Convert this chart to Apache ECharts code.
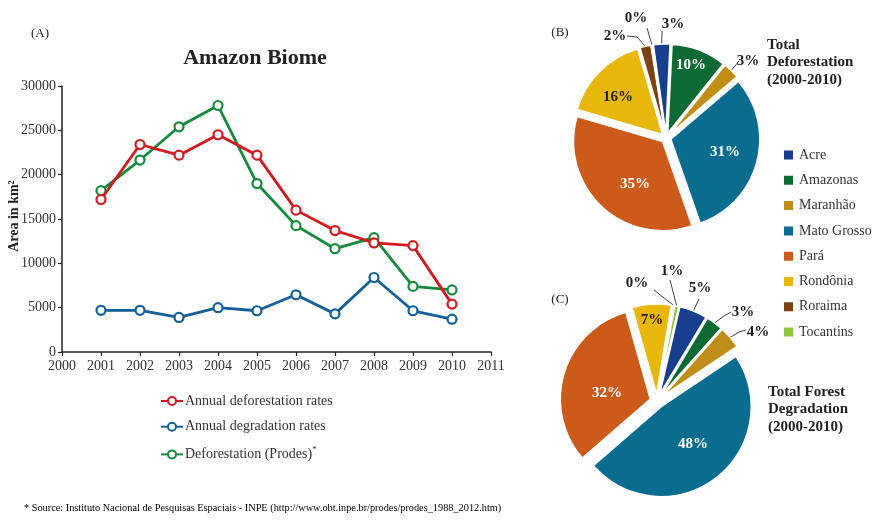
<!DOCTYPE html>
<html><head><meta charset="utf-8">
<script src="https://cdn.jsdelivr.net/npm/echarts@6/dist/echarts.min.js"></script>
<style>html,body{margin:0;padding:0;background:#fff}#c{width:886px;height:531px}</style>
</head><body><div id="c"></div>
<script>
// ---- data ----
const years = [2001, 2002, 2003, 2004, 2005, 2006, 2007, 2008, 2009, 2010];
const annualDeforestation = [17200, 23400, 22200, 24500, 22200, 16000, 13700, 12300, 12000, 5400];
const annualDegradation = [4700, 4700, 3900, 5000, 4650, 6450, 4300, 8400, 4650, 3700];
const prodesDeforestation = [18200, 21650, 25400, 27800, 19000, 14250, 11650, 12900, 7400, 7000];
const lineNames = ['Annual deforestation rates', 'Annual degradation rates', 'Deforestation (Prodes)'];
const states = ['Acre', 'Amazonas', 'Maranhão', 'Mato Grosso', 'Pará', 'Rondônia', 'Roraima', 'Tocantins'];
const totalDeforestationPct = [3, 10, 3, 31, 35, 16, 2, 0.3];
const totalDegradationPct = [5, 3, 4, 48, 32, 7, 0.3, 0.7];

// ---- styles / label layout ----
const FONT = '"Liberation Serif", "DejaVu Serif", serif';
const lineColors = ['#d2191f', '#155f98', '#168a3c'];
const stateColors = ['#173f8d', '#0e6a35', '#c08d16', '#0a6c8e', '#cb5a1b', '#e8b70c', '#7a4311', '#8dc63f'];
const defLabelColor = ['#222', '#fff', '#222', '#fff', '#fff', '#222', '#222', '#222'];
const degLabelColor = ['#222', '#222', '#222', '#fff', '#fff', '#222', '#222', '#222'];
// label centre (+ leader-line path for outside labels)
const defLabelLayout = [
  { x: 673, y: 24, line: [[662, 31]] },
  { x: 691, y: 65, inside: true },
  { x: 748, y: 61, line: [[739, 61]] },
  { x: 725, y: 152, inside: true },
  { x: 635, y: 184, inside: true },
  { x: 618, y: 97, inside: true },
  { x: 615, y: 36, line: [[637, 37], [627, 36]] },
  { x: 636, y: 18, line: [[647, 28]] }
];
const degLabelLayout = [
  { x: 700, y: 288, line: [[699, 299]] },
  { x: 743, y: 312, line: [[724, 316], [731, 312]] },
  { x: 758, y: 332, line: [[739, 332], [746, 330]] },
  { x: 693, y: 444, inside: true },
  { x: 607, y: 393, inside: true },
  { x: 652, y: 320, inside: true },
  { x: 637, y: 283, line: [[654, 290]] },
  { x: 672, y: 271, line: [[670, 280]] }
];

function pieSeries(values, colors, layout, center, radius, startAngle, offset) {
  const sum = values.reduce((a, b) => a + b, 0);
  let acc = 0;
  const shift = values.map(v => {
    const m = (startAngle - (acc + v / 2) / sum * 360) * Math.PI / 180;
    acc += v;
    return [offset * Math.cos(m), -offset * Math.sin(m)];
  });
  return {
    type: 'pie',
    center: center,
    radius: radius,
    startAngle: startAngle,
    clockwise: true,
    selectedMode: 'multiple',
    selectedOffset: offset,
    avoidLabelOverlap: false,
    animation: false,
    itemStyle: { borderColor: '#fff', borderWidth: 1.5 },
    select: { itemStyle: { borderColor: '#fff', borderWidth: 1.5 } },
    emphasis: { disabled: true },
    label: {
      fontFamily: FONT, fontWeight: 'bold', fontSize: 15,
      formatter: p => Math.round(p.value) + '%'
    },
    labelLine: { length: 6, length2: 4, lineStyle: { color: '#444', width: 1 } },
    labelLayout: function (p) {
      const L = layout[p.dataIndex];
      const s = shift[p.dataIndex];
      const lr = p.labelRect;
      const cx = lr.x + lr.width / 2, cy = lr.y + lr.height / 2;
      const res = { dx: L.x - s[0] - cx, dy: L.y - s[1] - cy };
      if (!L.inside && p.labelLinePoints) {
        res.labelLinePoints = [p.labelLinePoints[0]].concat(L.line.map(q => [q[0] - s[0], q[1] - s[1]]));
      }
      return res;
    },
    data: states.map((name, i) => ({
      name: name,
      value: values[i],
      selected: true,
      itemStyle: { color: stateColors[i] },
      label: { position: layout[i].inside ? 'inside' : 'outside', color: colors[i] },
      labelLine: { show: !layout[i].inside }
    }))
  };
}

const chart = echarts.init(document.getElementById('c'), null, { renderer: 'canvas' });
const txt = (x, y, text, size, weight, align, vAlign, extra) => ({
  type: 'text', x: x, y: y, silent: true,
  style: Object.assign({ text: text, fontFamily: FONT, fontSize: size, fontWeight: weight || 'normal',
    fill: '#222', align: align || 'left', verticalAlign: vAlign || 'middle' }, extra || {})
});

chart.setOption({
  animation: false,
  backgroundColor: '#fff',
  grid: { left: 62, right: 395, top: 86, bottom: 179, containLabel: false },
  xAxis: {
    type: 'value', min: 2000, max: 2011, interval: 1,
    axisLine: { lineStyle: { color: '#222', width: 1.5 } },
    axisTick: { show: true, length: 4, lineStyle: { color: '#222', width: 1.2 } },
    axisLabel: { fontFamily: FONT, fontSize: 14, color: '#333', margin: 7, formatter: v => String(v) },
    splitLine: { show: false }
  },
  yAxis: {
    type: 'value', min: 0, max: 30000, interval: 5000,
    axisLine: { show: true, lineStyle: { color: '#222', width: 1.5 } },
    axisTick: { show: true, length: 4, lineStyle: { color: '#222', width: 1.2 } },
    axisLabel: { fontFamily: FONT, fontSize: 14, color: '#333', margin: 6, formatter: v => String(v) },
    splitLine: { show: false }
  },
  legend: [
    {
      data: lineNames, orient: 'vertical', left: 155, top: 389,
      itemWidth: 22, itemHeight: 10, itemGap: 11.7,
      textStyle: { fontFamily: FONT, fontSize: 14, color: '#333', padding: [0, 0, 0, -3],
        rich: { n: { fontFamily: FONT, fontSize: 14, color: '#333' },
                s: { fontFamily: FONT, fontSize: 9, color: '#333', padding: [0, 0, 9, 0] } } },
      formatter: n => n === lineNames[2] ? '{n|' + n + '}{s|*}' : n
    },
    {
      data: states, orient: 'vertical', left: 777, top: 143,
      itemWidth: 11, itemHeight: 11, itemGap: 11.3, icon: 'rect',
      textStyle: { fontFamily: FONT, fontSize: 14, color: '#333' }
    }
  ],
  series: [
    ...[annualDeforestation, annualDegradation, prodesDeforestation].map((vals, i) => ({
      type: 'line', name: lineNames[i],
      data: years.map((y, j) => [y, vals[j]]),
      symbol: 'circle', symbolSize: 9, showSymbol: true,
      lineStyle: { color: lineColors[i], width: 2.8 },
      itemStyle: { color: '#fff', borderColor: lineColors[i], borderWidth: 2.2 },
      emphasis: { disabled: true },
      z: 3 - i
    })),
    pieSeries(totalDeforestationPct, defLabelColor, defLabelLayout, [666, 138], 89, 98, 5),
    pieSeries(totalDegradationPct, degLabelColor, degLabelLayout, [657, 401], 90, 77, 7)
  ],
  graphic: [
    txt(40, 34, '(A)', 13, 'normal', 'center'),
    txt(255, 58, 'Amazon Biome', 22, 'bold', 'center'),
    Object.assign(txt(14, 216, 'Area in km²', 14, 'bold', 'center'), { rotation: Math.PI / 2 }),
    txt(560, 33, '(B)', 13, 'normal', 'center'),
    txt(560, 300, '(C)', 13, 'normal', 'center'),
    txt(767, 36, 'Total\nDeforestation\n(2000-2010)', 15, 'bold', 'left', 'top', { lineHeight: 17.5 }),
    txt(768, 383, 'Total Forest\nDegradation\n(2000-2010)', 15, 'bold', 'left', 'top', { lineHeight: 17.5 }),
    txt(24, 508, '* Source: Instituto Nacional de Pesquisas Espaciais - INPE (http://www.obt.inpe.br/prodes/prodes_1988_2012.htm)', 10.3, 'normal', 'left', 'middle', { fill: '#000' })
  ]
});
</script></body></html>
